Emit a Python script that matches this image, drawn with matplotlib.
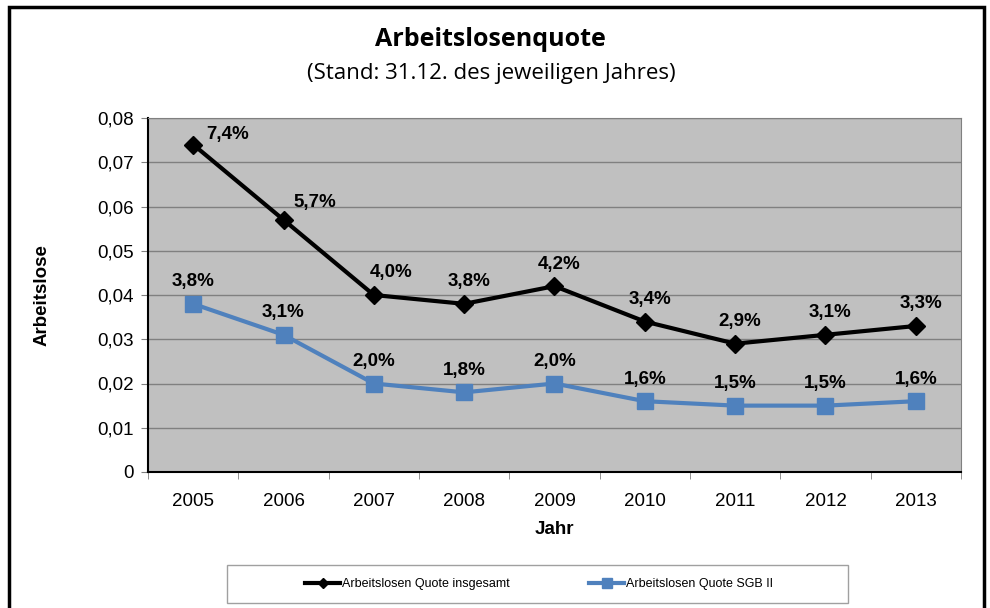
import matplotlib
matplotlib.use("Agg")
import matplotlib.pyplot as plt
from matplotlib.patches import Rectangle
from matplotlib.ticker import FuncFormatter

# Daten
jahre = ["2005", "2006", "2007", "2008", "2009", "2010", "2011", "2012", "2013"]
quote_gesamt = [0.074, 0.057, 0.040, 0.038, 0.042, 0.034, 0.029, 0.031, 0.033]
quote_sgb2 = [0.038, 0.031, 0.020, 0.018, 0.020, 0.016, 0.015, 0.015, 0.016]
label_gesamt = ["7,4%", "5,7%", "4,0%", "3,8%", "4,2%", "3,4%", "2,9%", "3,1%", "3,3%"]
label_sgb2 = ["3,8%", "3,1%", "2,0%", "1,8%", "2,0%", "1,6%", "1,5%", "1,5%", "1,6%"]
yticks = [0, 0.01, 0.02, 0.03, 0.04, 0.05, 0.06, 0.07, 0.08]

plt.rcParams['font.family'] = ['Liberation Sans', 'DejaVu Sans']

fig = plt.figure(figsize=(9.9, 6.08), dpi=100)
ax = fig.add_axes([148/990, 1-472/608, (961-148)/990, (472-118)/608])
ax.set_facecolor('#C0C0C0')

x = list(range(len(jahre)))
blau = '#4F81BD'

ax.plot(x, quote_gesamt, color='black', linewidth=3, marker='D', markersize=9,
        label="Arbeitslosen Quote insgesamt", zorder=4)
ax.plot(x, quote_sgb2, color=blau, linewidth=3, marker='s', markersize=12,
        label="Arbeitslosen Quote SGB II", zorder=3)

# Beschriftungen der Punkte (Versatz in Pixel)
for i in range(len(jahre)):
    if i == 0:
        dx, dy = 34, 10
    elif i == 1:
        dx, dy = 31, 17
    elif i == 2:
        dx, dy = 17, 23
    else:
        dx, dy = 5, 22
    ax.annotate(label_gesamt[i], (x[i], quote_gesamt[i]), xytext=(dx * 0.72, dy * 0.72),
                textcoords='offset points', ha='center', va='center',
                fontsize=13.5, fontweight='bold', zorder=5)
    ax.annotate(label_sgb2[i], (x[i], quote_sgb2[i]), xytext=(0, 22 * 0.72),
                textcoords='offset points', ha='center', va='center',
                fontsize=13.5, fontweight='bold', zorder=5)

ax.set_xlim(-0.5, len(jahre) - 0.5)
ax.set_ylim(0, 0.08)
ax.set_yticks(yticks)
ax.yaxis.set_major_formatter(FuncFormatter(lambda v, p: "0" if v == 0 else f"{v:.2f}".replace(".", ",")))
ax.set_xticks(x)
ax.set_xticklabels(jahre)
ax.set_xticks([i - 0.5 for i in range(len(jahre) + 1)], minor=True)
ax.tick_params(axis='x', which='major', length=0, pad=15, labelsize=13.5)
ax.tick_params(axis='x', which='minor', length=5, color='#808080')
ax.tick_params(axis='y', length=5, color='#808080', labelsize=13.5, pad=5)

ax.grid(axis='y', color='#808080', linewidth=1)
ax.set_axisbelow(True)
for s in ['top', 'right']:
    ax.spines[s].set_color('#808080')
for s in ['left', 'bottom']:
    ax.spines[s].set_color('black')
    ax.spines[s].set_linewidth(1.5)

ax.set_xlabel("Jahr", fontsize=13.5, fontweight='bold', labelpad=8)
ax.set_ylabel("Arbeitslose", fontsize=13.5, fontweight='bold', labelpad=34)

fig.text(490/990, 1-40/608, "Arbeitslosenquote", ha='center', va='center',
         fontsize=18, fontweight='bold', family='Open Sans')
fig.text(491/990, 1-73/608, "(Stand: 31.12. des jeweiligen Jahres)", ha='center', va='center',
         fontsize=16, family='Open Sans')

# Legende mit eigenem Rahmen
fig.patches.append(Rectangle((227/990, 1-603/608), (848-227)/990, 38/608, transform=fig.transFigure,
                             fill=False, edgecolor='#A0A0A0', linewidth=1))
fig.legend(loc='center', bbox_to_anchor=(539/990, 1-584/608), ncol=2, fontsize=9,
           frameon=False, handlelength=2.8, handletextpad=0.1,
           columnspacing=6.4, markerscale=0.6)

# Rahmen um die Grafik
fig.patches.append(Rectangle((9/990, -0.05), (984-9)/990, 1.05 - 7/608, transform=fig.transFigure,
                             fill=False, edgecolor='black', linewidth=2.5))

fig.savefig("out.png", dpi=100)
